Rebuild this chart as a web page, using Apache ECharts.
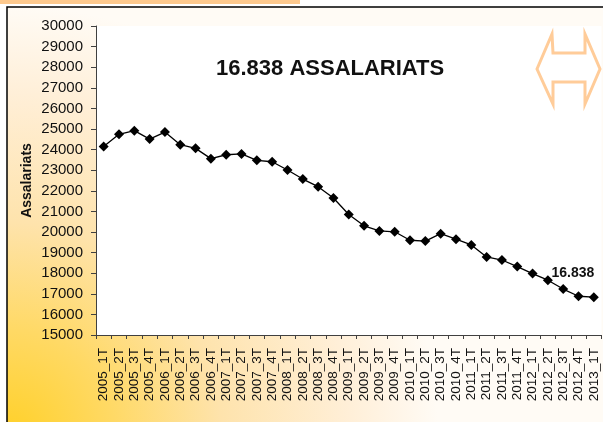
<!DOCTYPE html>
<html>
<head>
<meta charset="utf-8">
<script src="https://cdn.jsdelivr.net/npm/echarts@6/dist/echarts.min.js"></script>
<style>
  html, body { margin: 0; padding: 0; background: #fff; }
  #chart { width: 603px; height: 422px; }
</style>
</head>
<body>
<div id="chart"></div>
<script>
// quarters
const quarters = [
  '2005_1T', '2005_2T', '2005_3T', '2005_4T',
  '2006_1T', '2006_2T', '2006_3T', '2006_4T',
  '2007_1T', '2007_2T', '2007_3T', '2007_4T',
  '2008_1T', '2008_2T', '2008_3T', '2008_4T',
  '2009_1T', '2009_2T', '2009_3T', '2009_4T',
  '2010_1T', '2010_2T', '2010_3T', '2010_4T',
  '2011_1T', '2011_2T', '2011_3T', '2011_4T',
  '2012_1T', '2012_2T', '2012_3T', '2012_4T',
  '2013_1T'
];
// employees per quarter
const employees = [
  24150, 24740, 24920, 24510,
  24850, 24240, 24060, 23560,
  23750, 23790, 23480, 23410,
  23010, 22570, 22200, 21650,
  20850, 20300, 20050, 20010,
  19600, 19560, 19920, 19650,
  19370, 18790, 18640, 18320,
  17980, 17660, 17230, 16880,
  16838
];
const yTicks = { min: 15000, max: 30000, step: 1000 };
const titleText = '16.838 ASSALARIATS';
const lastLabel = '16.838';
const yName = 'Assalariats';

const font = "'Liberation Sans', Arial, sans-serif";

let myChart = echarts.init(document.getElementById('chart'), null, { renderer: 'canvas' });

let seriesData = employees.map((v, i) => {
  if (i === employees.length - 1) {
    return {
      value: v,
      label: {
        show: true,
        formatter: lastLabel,
        position: 'top',
        offset: [-21, -7],
        fontFamily: font,
        fontWeight: 'bold',
        fontSize: 14,
        color: '#111'
      }
    };
  }
  return v;
});

let option = {
  backgroundColor: '#fff',
  animation: false,
  title: {
    text: titleText,
    left: 211,
    top: 53,
    textStyle: { fontFamily: font, fontWeight: 'bold', fontSize: 22, color: '#111' }
  },
  graphic: [
    // orange strip at top
    { type: 'rect', z: -20, shape: { x: 0, y: 0, width: 300, height: 4 }, style: { fill: '#FDC98E' } },
    // framed box with gradient
    {
      type: 'rect', z: -10,
      shape: { x: 7, y: 7, width: 610, height: 430 },
      style: {
        fill: new echarts.graphic.RadialGradient(0, 1, 1, [
          { offset: 0, color: '#FFD026' },
          { offset: 0.25, color: '#FFD965' },
          { offset: 0.5, color: '#FEE3AC' },
          { offset: 0.8, color: '#FFEFD8' },
          { offset: 1, color: '#FFFBF5' }
        ]),
        stroke: '#000',
        lineWidth: 1.5
      }
    },
    // double arrow icon
    {
      type: 'polygon', z: 100,
      shape: {
        points: [[537, 69], [552, 34], [553, 53], [585, 53], [585, 34], [600, 69],
                 [585, 104], [585, 82], [553, 82], [553, 104]]
      },
      style: { fill: 'none', stroke: '#FFCC99', lineWidth: 3, lineJoin: 'miter' }
    }
  ],
  grid: {
    left: 96, right: 1.5, top: 26, bottom: 87,
    show: true, backgroundColor: '#fff', borderWidth: 0
  },
  xAxis: {
    type: 'category',
    data: quarters,
    boundaryGap: true,
    axisLine: { show: true, lineStyle: { color: '#404040', width: 1 } },
    axisTick: { show: true, interval: 0, length: 4, alignWithLabel: false, lineStyle: { color: '#404040' } },
    axisLabel: {
      interval: 0, rotate: 90, margin: 13,
      fontFamily: font, fontSize: 13.5, color: '#111'
    },
    splitLine: { show: false }
  },
  yAxis: {
    type: 'value',
    min: yTicks.min, max: yTicks.max, interval: yTicks.step,
    name: yName,
    nameLocation: 'middle',
    nameRotate: 90,
    nameGap: 62,
    nameMoveOverlap: false,
    nameTextStyle: { fontFamily: font, fontWeight: 'bold', fontSize: 14, color: '#111' },
    axisLine: { show: true, lineStyle: { color: '#404040', width: 1 } },
    axisTick: { show: true, length: 5, lineStyle: { color: '#404040' } },
    axisLabel: {
      margin: 13, fontFamily: font, fontSize: 15, color: '#111',
      formatter: v => String(v)
    },
    splitLine: { show: false }
  },
  series: [{
    type: 'line',
    data: seriesData,
    symbol: 'diamond',
    symbolSize: 10,
    itemStyle: { color: '#000' },
    lineStyle: { color: '#000', width: 1.3 },
    label: { show: false }
  }]
};
myChart.setOption(option);
</script>
</body>
</html>
